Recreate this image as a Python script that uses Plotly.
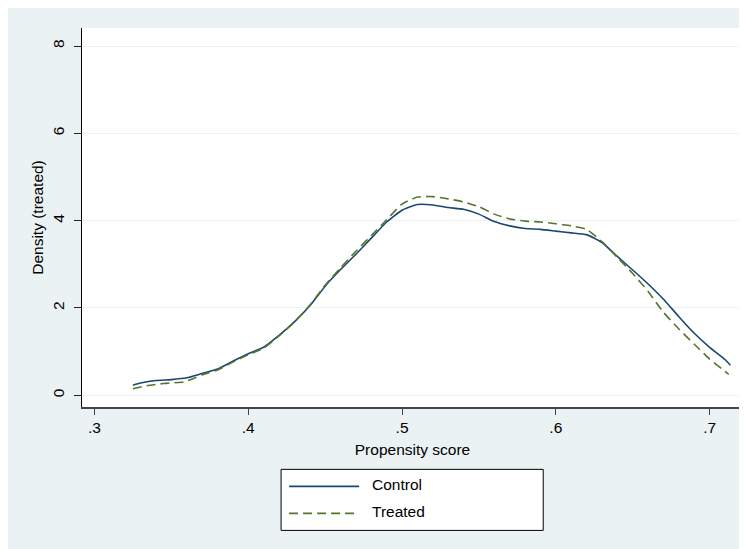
import plotly.graph_objects as go

# ---- data ----
control_x = [0.325, 0.33, 0.34, 0.35, 0.36, 0.37, 0.38, 0.39, 0.40, 0.41, 0.42, 0.43, 0.44, 0.45,
             0.46, 0.47, 0.48, 0.49, 0.50, 0.51, 0.52, 0.53, 0.54, 0.55, 0.56, 0.57, 0.58, 0.59,
             0.60, 0.61, 0.62, 0.63, 0.64, 0.65, 0.66, 0.67, 0.68, 0.69, 0.70, 0.71, 0.7135]
control_y = [0.23, 0.28, 0.34, 0.36, 0.40, 0.50, 0.60, 0.78, 0.95, 1.10, 1.37, 1.68, 2.05, 2.50,
             2.88, 3.23, 3.60, 3.97, 4.24, 4.37, 4.36, 4.30, 4.26, 4.15, 3.98, 3.88, 3.82, 3.80,
             3.76, 3.72, 3.68, 3.50, 3.18, 2.87, 2.55, 2.20, 1.80, 1.42, 1.10, 0.82, 0.69]

treated_x = [0.325, 0.334, 0.345, 0.358, 0.364, 0.37, 0.38, 0.39, 0.40, 0.41, 0.42, 0.43, 0.44, 0.45,
             0.46, 0.47, 0.48, 0.49, 0.50, 0.51, 0.52, 0.53, 0.54, 0.55, 0.56, 0.57, 0.58, 0.59,
             0.60, 0.61, 0.62, 0.63, 0.64, 0.65, 0.66, 0.67, 0.68, 0.69, 0.70, 0.71, 0.7124]
treated_y = [0.15, 0.22, 0.27, 0.305, 0.38, 0.47, 0.58, 0.76, 0.93, 1.08, 1.36, 1.68, 2.06, 2.52,
             2.92, 3.30, 3.66, 4.02, 4.38, 4.54, 4.55, 4.50, 4.43, 4.32, 4.15, 4.04, 3.99, 3.97,
             3.93, 3.88, 3.80, 3.52, 3.16, 2.79, 2.38, 1.90, 1.52, 1.17, 0.83, 0.55, 0.48]

series_names = ["Control", "Treated"]
x_tickvals = [0.3, 0.4, 0.5, 0.6, 0.7]
x_ticktext = [".3", ".4", ".5", ".6", ".7"]
y_tickvals = [0, 2, 4, 6, 8]
y_ticktext = ["0", "2", "4", "6", "8"]

NAVY = "#1A476F"
GREEN = "#55752F"
BG = "#EAF2F3"
FONT = "Liberation Sans, Arial, sans-serif"
DASH = "9px,5px"

# figure is placed at page offset (8, 8) by the browser body margin
OFF = 8
W, H = 747 - OFF, 549 - OFF
L, T = 82 - OFF, 28 - OFF
R = W - (742.7 - OFF)
B = H - (406.7 - OFF)
PW, PH = W - L - R, H - T - B


def px(xp):
    """page x (as measured on the reference) -> paper coordinate"""
    return (xp - OFF - L) / PW


def py(yp):
    """page y (as measured on the reference) -> paper coordinate"""
    return (H - B - (yp - OFF)) / PH


fig = go.Figure()
fig.add_trace(go.Scatter(x=control_x, y=control_y, mode="lines", name=series_names[0],
                         line=dict(color=NAVY, width=1.6, shape="spline", smoothing=0.5),
                         showlegend=False))
fig.add_trace(go.Scatter(x=treated_x, y=treated_y, mode="lines", name=series_names[1],
                         line=dict(color=GREEN, width=1.6, dash=DASH, shape="spline",
                                   smoothing=0.5),
                         showlegend=False))

shapes = [
    # legend box
    dict(type="rect", xref="paper", yref="paper", x0=px(281), x1=px(543), y0=py(530), y1=py(469),
         fillcolor="white", line=dict(color="black", width=1)),
    dict(type="line", xref="paper", yref="paper", x0=px(289), x1=px(359), y0=py(486), y1=py(486),
         line=dict(color=NAVY, width=1.6)),
    dict(type="line", xref="paper", yref="paper", x0=px(289), x1=px(359), y0=py(513), y1=py(513),
         line=dict(color=GREEN, width=1.6, dash=DASH)),
]

annotations = [
    dict(xref="paper", yref="paper", x=px(370), y=py(484), text=series_names[0], showarrow=False,
         xanchor="left", yanchor="middle", font=dict(family=FONT, size=15.5, color="black")),
    dict(xref="paper", yref="paper", x=px(370), y=py(511), text=series_names[1], showarrow=False,
         xanchor="left", yanchor="middle", font=dict(family=FONT, size=15.5, color="black")),
]

fig.update_layout(
    width=W, height=H,
    margin=dict(l=L, r=R, t=T, b=B, pad=0),
    paper_bgcolor=BG, plot_bgcolor="white",
    font=dict(family=FONT, size=15.5, color="black"),
    shapes=shapes, annotations=annotations,
    showlegend=False,
    xaxis=dict(
        range=[0.2919, 0.7217], tickvals=x_tickvals, ticktext=x_ticktext,
        showgrid=False, zeroline=False,
        showline=True, linecolor="#444444", linewidth=1.6,
        ticks="outside", ticklen=6, tickwidth=1.2, tickcolor="#444444",
        tickfont=dict(size=15.5), ticklabelstandoff=0,
        title=dict(text="Propensity score", font=dict(size=15.5), standoff=9),
    ),
    yaxis=dict(
        range=[-0.268, 8.413], tickvals=y_tickvals, ticktext=y_ticktext,
        showgrid=True, gridcolor=BG, gridwidth=1.2, zeroline=False,
        showline=True, linecolor="black", linewidth=1.3,
        ticks="outside", ticklen=7, tickwidth=1.2, tickcolor="#222222",
        tickangle=-90, tickfont=dict(size=15.5), ticklabelstandoff=4,
        title=dict(text="Density (treated)", font=dict(size=15.5), standoff=2),
    ),
)

fig.write_html("out.html")
